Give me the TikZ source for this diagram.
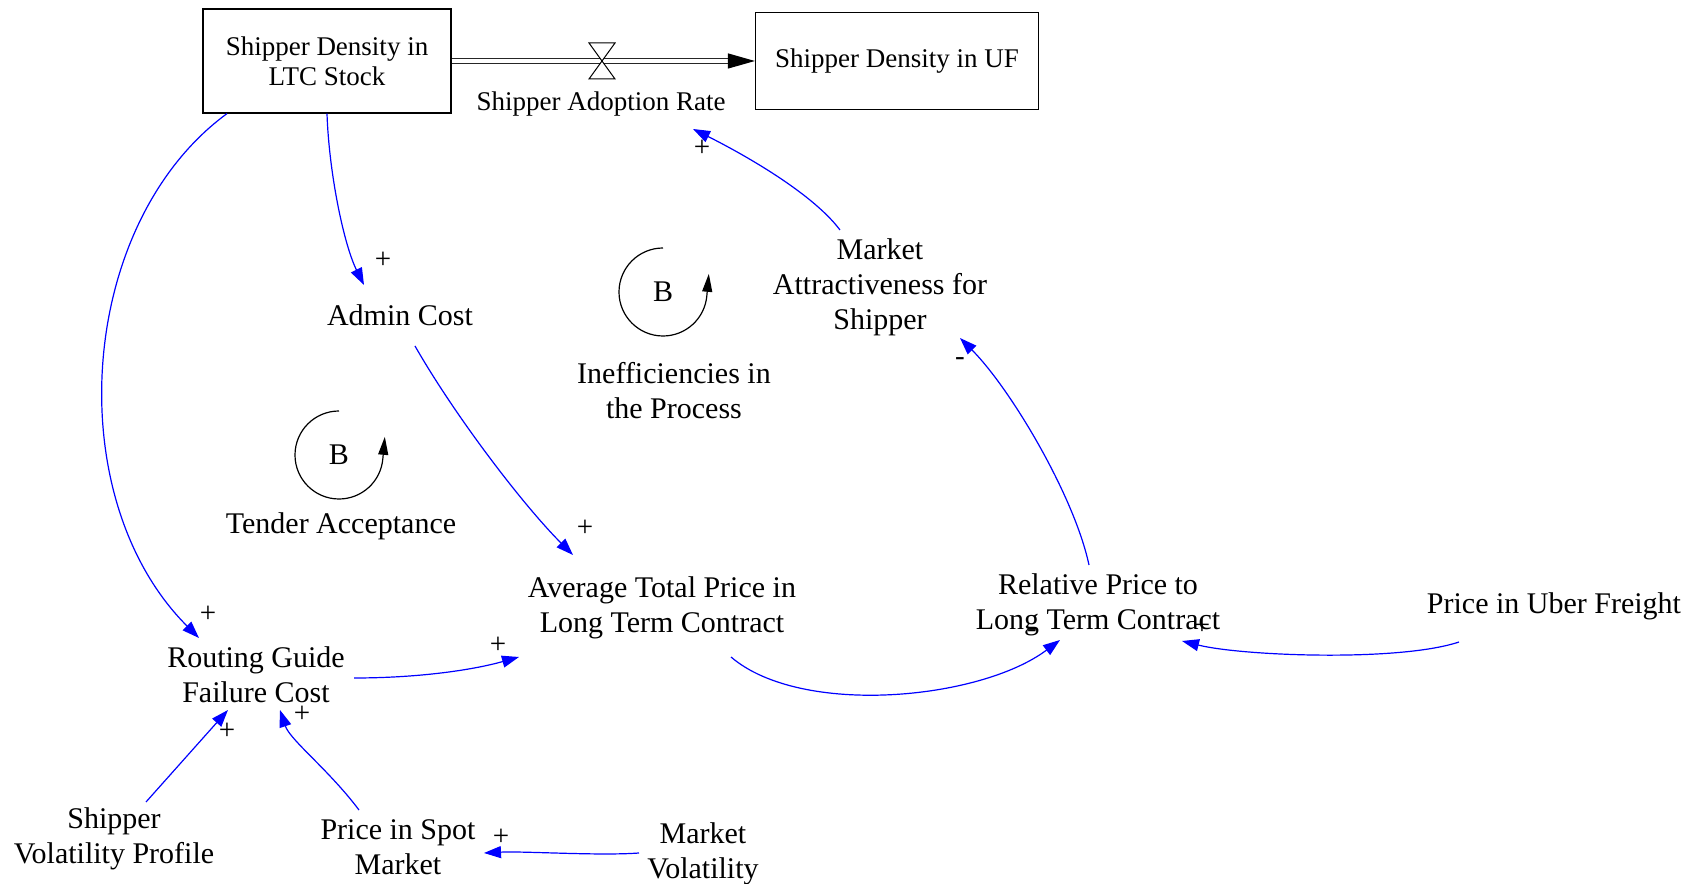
\documentclass[tikz,border=0pt]{standalone}
\usepackage{fontspec}
\setmainfont{Liberation Serif}
\usetikzlibrary{arrows.meta, calc}

\begin{document}
\begin{tikzpicture}[
        x=0.5pt, y=0.5pt,
        var/.style={align=center, font=\fontsize{15}{17.5}\selectfont},
        stock/.style={rectangle, draw, line width=0.6pt, align=center, font=\fontsize{13.5}{15}\selectfont},
        link/.style={blue, line width=0.6pt, -{Triangle[length=8.5pt, width=6pt]}},
        pol/.style={font=\fontsize{14.5}{14.5}\selectfont, inner sep=0pt},
        pipe/.style={double, double distance=1.8pt, line width=0.7pt, draw=black!85},
        valveshape/.style={draw, fill=white, line width=0.5pt},
        loopsym/.style={line width=0.6pt, -{Triangle[length=9pt, width=5pt]}}
    ]
        \useasboundingbox (0,0) rectangle (1704,884);

        \node[stock, minimum width=124pt, minimum height=52pt] (ltc) at (327,823) {Shipper Density in\\LTC Stock};
        \node[stock, minimum width=141.5pt, minimum height=48.5pt] (uf) at (897,823) {Shipper Density in UF};
        \coordinate (valve) at (602,823);
        \node[font=\fontsize{13.5}{15}\selectfont] (rate) at (601,780) {Shipper Adoption Rate};

        \node[var] (admin) at (400,569) {Admin Cost};
        \node[var] (attract) at (880,597) {Market\\Attractiveness for\\Shipper};
        \node[var] (loop1) at (663,592) {B};
        \node[var] (lbl1) at (674,493) {Inefficiencies in\\the Process};
        \node[var] (loop2) at (339,429) {B};
        \node[var] (lbl2) at (341,358) {Tender Acceptance};
        \node[var] (avg) at (662,276) {Average Total Price in\\Long Term Contract};
        \node[var] (rel) at (1098,279) {Relative Price to\\Long Term Contract};
        \node[var] (uber) at (1554,278) {Price in Uber Freight};
        \node[var] (rgfc) at (256,209) {Routing Guide\\Failure Cost};
        \node[var] (svp) at (114,45) {Shipper\\Volatility Profile};
        \node[var] (spot) at (398,37) {Price in Spot\\Market};
        \node[var] (mvol) at (703,30) {Market\\Volatility};

        % flow
        \coordinate (pipeend) at ($(uf.west)+(-27,0)$);
        \draw[pipe] (ltc.east) -- (pipeend);
        \draw[line width=0.6pt, -{Triangle[length=13.5pt, width=7.5pt]}] (pipeend) -- (uf.west);
        \draw[valveshape] (valve) -- ++(-13,18) -- ++(26,0) -- cycle;
        \draw[valveshape] (valve) -- ++(-13,-18) -- ++(26,0) -- cycle;

        % loops
        \draw[loopsym] ($(loop1.center)+(0,44)$) arc[start angle=90, end angle=355, radius=44] -- ++(2,22);
        \draw[loopsym] ($(loop2.center)+(0,44)$) arc[start angle=90, end angle=355, radius=44] -- ++(2,22);

        \draw[link] (ltc.south) .. controls +(2,-60) and +(-20,40) .. ([shift={(-36,30)}]admin.center);
        \draw[link] ([shift={(-100,0)}]ltc.south) .. controls +(-150,-110) and +(-140,140) .. ([shift={(-57,37)}]rgfc.center);
        \draw[link] ([shift={(15,-31)}]admin.center) .. controls +(40,-70) and +(-50,50) .. ([shift={(-89,53)}]avg.center);
        \draw[link] ([shift={(98,-3)}]rgfc.center) .. controls +(60,0) and +(-50,-14) .. ([shift={(-143,-49)}]avg.center);
        \draw[link] ([shift={(69,-49)}]avg.center) .. controls +(70,-60) and +(-80,-60) .. ([shift={(-38,-35)}]rel.center);
        \draw[link] ([shift={(-95,-36)}]uber.center) .. controls +(-60,-20) and +(60,-15) .. ([shift={(84,-36)}]rel.center);
        \draw[link] ([shift={(-9,40)}]rel.center) .. controls +(-15,70) and +(50,-50) .. ([shift={(80,-51)}]attract.center);
        \draw[link] ([shift={(-40,57)}]attract.center) .. controls +(-30,40) and +(40,-20) .. ([shift={(92,-25)}]rate.center);
        \draw[link] ([shift={(32,37)}]svp.center) -- ([shift={(-28,-35)}]rgfc.center);
        \draw[link] ([shift={(-39,37)}]spot.center) .. controls +(-30,40) and +(10,-30) .. ([shift={(24,-35)}]rgfc.center);
        \draw[link] ([shift={(-64,1)}]mvol.center) .. controls +(-40,-3) and +(40,2) .. ([shift={(86,-6)}]spot.center);

        \node[pol] (p1) at (383,624) {+};
        \node[pol] (p2) at (208,270) {+};
        \node[pol] (p3) at (585,356) {+};
        \node[pol] (p4) at (498,239) {+};
        \node[pol] (p5) at (1032,250) {-};
        \node[pol] (p6) at (1202,258) {+};
        \node[pol] (p7) at (960,522) {-};
        \node[pol] (p8) at (702,736) {+};
        \node[pol] (p9) at (227,153) {+};
        \node[pol] (p10) at (302,170) {+};
        \node[pol] (p11) at (501,47) {+};

    \end{tikzpicture}
\end{document}
